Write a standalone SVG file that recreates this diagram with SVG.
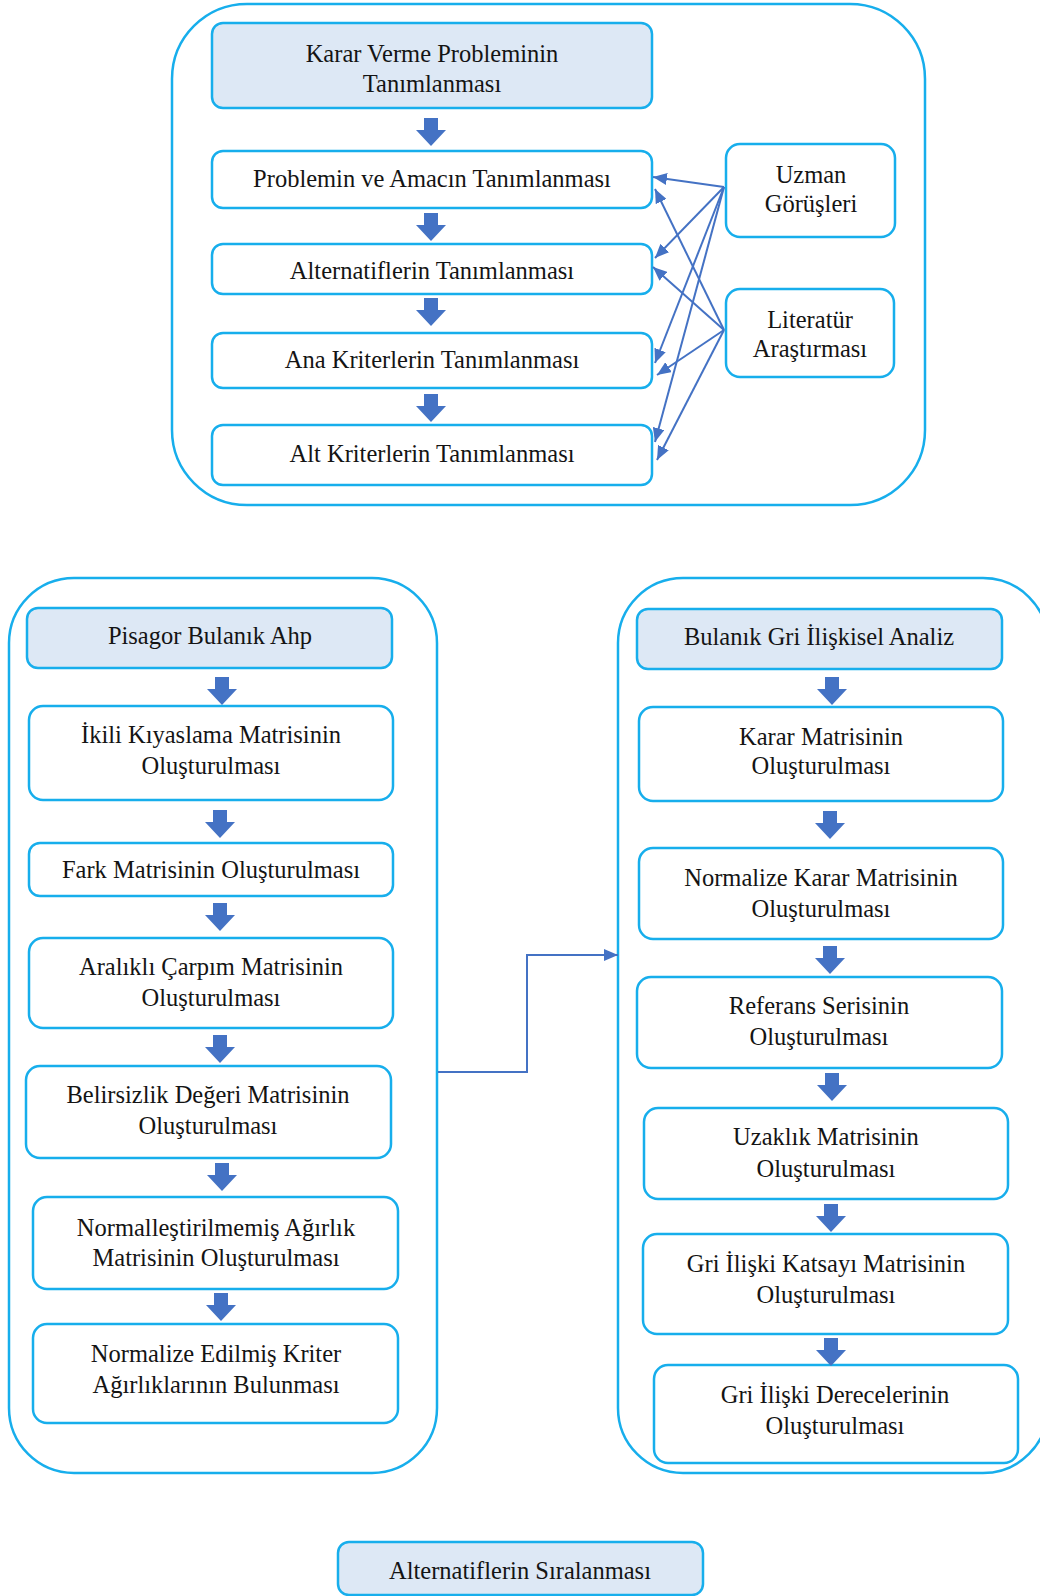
<svg xmlns="http://www.w3.org/2000/svg" width="1040" height="1596" viewBox="0 0 1040 1596">
<style>
.cont{fill:none;stroke:#17aeec;stroke-width:2.5}
.box{fill:#ffffff;stroke:#17aeec;stroke-width:2.5}
.hbox{fill:#dde8f5;stroke:#17aeec;stroke-width:2.5}
.t{font-size:24.5px;fill:#141414;text-anchor:middle}
.ln{fill:none;stroke:#4472c4;stroke-width:2}
.dn{fill:#4472c4}
</style>
<defs>
<path id="dn" d="M-7,0 H7 V12 H15 L0,28 L-15,12 H-7 Z"/>
<marker id="ah" markerUnits="userSpaceOnUse" markerWidth="14" markerHeight="12" refX="14" refY="6" orient="auto">
<path d="M0,0 L14,6 L0,12 Z" fill="#4472c4"/>
</marker>
</defs>
<rect width="1040" height="1596" fill="#ffffff"/>
<g id="containers">
<rect class="cont" x="172" y="4" width="753" height="501" rx="75" ry="75"/>
<rect class="cont" x="9" y="578" width="428" height="895" rx="65" ry="65"/>
<rect class="cont" x="618" y="578" width="430" height="895" rx="65" ry="65"/>
</g>
<g id="nodes" font-family="Liberation Serif, Times New Roman, serif">
<g id="n-karar"><rect class="hbox" x="212" y="23" width="440" height="85" rx="11"/><text class="t" x="432" y="62">Karar Verme Probleminin</text><text class="t" x="432" y="92">Tanımlanması</text></g>
<g id="n-problem"><rect class="box" x="212" y="151" width="440" height="57" rx="11"/><text class="t" x="432" y="187">Problemin ve Amacın Tanımlanması</text></g>
<g id="n-alt"><rect class="box" x="212" y="244" width="440" height="50" rx="11"/><text class="t" x="432" y="279">Alternatiflerin Tanımlanması</text></g>
<g id="n-ana"><rect class="box" x="212" y="333" width="440" height="55" rx="11"/><text class="t" x="432" y="368">Ana Kriterlerin Tanımlanması</text></g>
<g id="n-altk"><rect class="box" x="212" y="425" width="440" height="60" rx="11"/><text class="t" x="432" y="462">Alt Kriterlerin Tanımlanması</text></g>
<g id="n-uzman"><rect class="box" x="726" y="144" width="169" height="93" rx="14"/><text class="t" x="811" y="183">Uzman</text><text class="t" x="811" y="212">Görüşleri</text></g>
<g id="n-lit"><rect class="box" x="726" y="289" width="168" height="88" rx="14"/><text class="t" x="810" y="328">Literatür</text><text class="t" x="810" y="357">Araştırması</text></g>
<g id="n-pisagor"><rect class="hbox" x="27" y="608" width="365" height="60" rx="11"/><text class="t" x="210" y="644">Pisagor Bulanık Ahp</text></g>
<g id="n-ikili"><rect class="box" x="29" y="706" width="364" height="94" rx="14"/><text class="t" x="211" y="743">İkili Kıyaslama Matrisinin</text><text class="t" x="211" y="774">Oluşturulması</text></g>
<g id="n-fark"><rect class="box" x="29" y="843" width="364" height="53" rx="11"/><text class="t" x="211" y="878">Fark Matrisinin Oluşturulması</text></g>
<g id="n-aralikli"><rect class="box" x="29" y="938" width="364" height="90" rx="14"/><text class="t" x="211" y="975">Aralıklı Çarpım Matrisinin</text><text class="t" x="211" y="1006">Oluşturulması</text></g>
<g id="n-belirsiz"><rect class="box" x="26" y="1066" width="365" height="92" rx="14"/><text class="t" x="208" y="1103">Belirsizlik Değeri Matrisinin</text><text class="t" x="208" y="1134">Oluşturulması</text></g>
<g id="n-normal"><rect class="box" x="33" y="1197" width="365" height="92" rx="14"/><text class="t" x="216" y="1236">Normalleştirilmemiş Ağırlık</text><text class="t" x="216" y="1266">Matrisinin Oluşturulması</text></g>
<g id="n-normed"><rect class="box" x="33" y="1324" width="365" height="99" rx="14"/><text class="t" x="216" y="1362">Normalize Edilmiş Kriter</text><text class="t" x="216" y="1393">Ağırlıklarının Bulunması</text></g>
<g id="n-gri"><rect class="hbox" x="637" y="609" width="365" height="60" rx="11"/><text class="t" x="819" y="645">Bulanık Gri İlişkisel Analiz</text></g>
<g id="n-kararm"><rect class="box" x="639" y="707" width="364" height="94" rx="14"/><text class="t" x="821" y="745">Karar Matrisinin</text><text class="t" x="821" y="774">Oluşturulması</text></g>
<g id="n-normk"><rect class="box" x="639" y="848" width="364" height="91" rx="14"/><text class="t" x="821" y="886">Normalize Karar Matrisinin</text><text class="t" x="821" y="917">Oluşturulması</text></g>
<g id="n-ref"><rect class="box" x="637" y="977" width="365" height="91" rx="14"/><text class="t" x="819" y="1014">Referans Serisinin</text><text class="t" x="819" y="1045">Oluşturulması</text></g>
<g id="n-uzak"><rect class="box" x="644" y="1108" width="364" height="91" rx="14"/><text class="t" x="826" y="1145">Uzaklık Matrisinin</text><text class="t" x="826" y="1177">Oluşturulması</text></g>
<g id="n-katsayi"><rect class="box" x="643" y="1234" width="365" height="100" rx="14"/><text class="t" x="826" y="1272">Gri İlişki Katsayı Matrisinin</text><text class="t" x="826" y="1303">Oluşturulması</text></g>
<g id="n-derece"><rect class="box" x="654" y="1365" width="364" height="98" rx="14"/><text class="t" x="835" y="1403">Gri İlişki Derecelerinin</text><text class="t" x="835" y="1434">Oluşturulması</text></g>
<g id="n-sira"><rect class="hbox" x="338" y="1542" width="365" height="53" rx="11"/><text class="t" x="520" y="1579">Alternatiflerin Sıralanması</text></g>
</g>
<g id="connectors">
<use href="#dn" class="dn" x="431" y="118"/>
<use href="#dn" class="dn" x="431" y="213"/>
<use href="#dn" class="dn" x="431" y="298"/>
<use href="#dn" class="dn" x="431" y="394"/>
<use href="#dn" class="dn" x="222" y="677"/>
<use href="#dn" class="dn" x="220" y="810"/>
<use href="#dn" class="dn" x="220" y="903"/>
<use href="#dn" class="dn" x="220" y="1035"/>
<use href="#dn" class="dn" x="222" y="1163"/>
<use href="#dn" class="dn" x="221" y="1293"/>
<use href="#dn" class="dn" x="832" y="677"/>
<use href="#dn" class="dn" x="830" y="811"/>
<use href="#dn" class="dn" x="830" y="946"/>
<use href="#dn" class="dn" x="832" y="1073"/>
<use href="#dn" class="dn" x="831" y="1204"/>
<use href="#dn" class="dn" x="831" y="1338"/>
<line class="ln" x1="724" y1="187" x2="653" y2="177" marker-end="url(#ah)"/>
<line class="ln" x1="724" y1="187" x2="655" y2="258" marker-end="url(#ah)"/>
<line class="ln" x1="724" y1="187" x2="655" y2="363" marker-end="url(#ah)"/>
<line class="ln" x1="724" y1="187" x2="655" y2="442" marker-end="url(#ah)"/>
<line class="ln" x1="724" y1="330" x2="655" y2="189" marker-end="url(#ah)"/>
<line class="ln" x1="724" y1="330" x2="653" y2="267" marker-end="url(#ah)"/>
<line class="ln" x1="724" y1="330" x2="657" y2="375" marker-end="url(#ah)"/>
<line class="ln" x1="724" y1="330" x2="657" y2="460" marker-end="url(#ah)"/>
<path class="ln" stroke-width="2.5" d="M438,1072 H527 V955 H618" marker-end="url(#ah)"/>
</g>
</svg>
